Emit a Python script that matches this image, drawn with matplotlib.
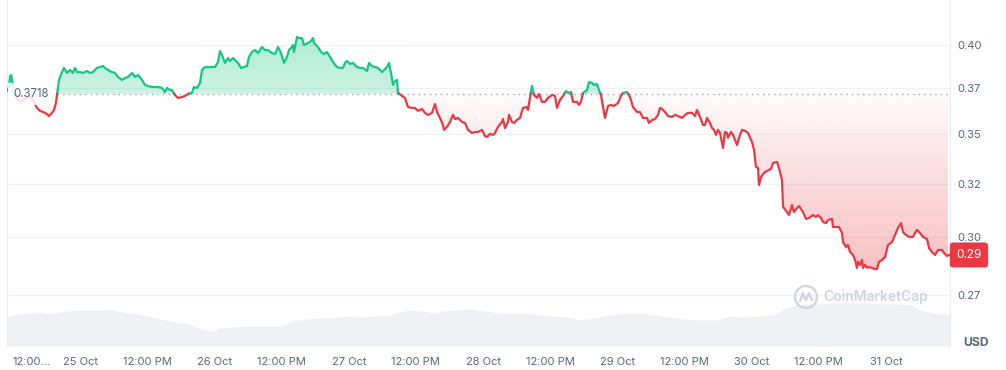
import numpy as np
import matplotlib.pyplot as plt
import matplotlib.colors as mcolors
from matplotlib.path import Path
from matplotlib.patches import Ellipse
from matplotlib.lines import Line2D

plt.rcParams['font.family'] = ['Inter', 'DejaVu Sans']

# hours since 24 Oct 12:00
hours = [
    -1.07, -0.71, -0.54, -0.36, -0.18, 0.0, 0.18, 0.71, 1.25, 1.79,
    2.50, 3.04, 3.57, 4.29, 4.82, 5.36, 6.08, 6.43, 6.97, 7.33,
    7.68, 7.86, 8.22, 8.76, 9.11, 9.65, 10.19, 10.72, 11.08, 11.44,
    11.97, 12.51, 13.22, 13.76, 14.30, 15.01, 15.55, 16.08, 16.44, 16.98,
    17.69, 18.23, 18.76, 19.48, 20.01, 20.55, 21.27, 21.80, 22.34, 23.05,
    23.59, 24.12, 24.84, 25.38, 25.91, 26.63, 27.16, 27.52, 28.06, 28.41,
    28.95, 29.49, 30.20, 30.74, 31.27, 31.99, 32.34, 32.88, 33.42, 33.77,
    34.31, 34.85, 35.56, 36.10, 36.63, 36.99, 37.35, 37.88, 38.42, 38.78,
    39.31, 39.67, 40.21, 40.74, 41.28, 41.82, 42.17, 42.71, 43.25, 43.78,
    44.50, 45.03, 45.57, 46.28, 46.82, 47.36, 47.89, 48.43, 48.96, 49.32,
    49.68, 50.04, 50.21, 50.75, 51.11, 51.64, 52.00, 52.72, 53.25, 53.61,
    53.79, 54.50, 55.04, 55.58, 56.11, 56.65, 57.18, 57.90, 58.43, 58.97,
    59.33, 59.69, 60.22, 60.76, 61.47, 62.01, 62.55, 63.26, 63.62, 64.15,
    64.69, 65.23, 65.94, 66.48, 66.83, 67.19, 67.55, 67.91, 68.08, 68.62,
    68.80, 69.51, 70.05, 70.59, 71.30, 71.84, 72.37, 73.09, 73.62, 74.16,
    74.88, 75.41, 75.77, 76.30, 76.84, 77.02, 77.56, 78.09, 78.63, 78.99,
    79.52, 80.24, 80.77, 81.31, 82.02, 82.56, 83.10, 83.81, 84.35, 84.70,
    85.24, 85.78, 86.13, 86.67, 87.38, 87.56, 87.92, 88.46, 88.64, 89.17,
    89.53, 90.06, 90.60, 91.14, 91.85, 92.03, 92.39, 92.75, 93.10, 93.64,
    94.00, 94.53, 95.07, 95.60, 96.32, 96.86, 97.21, 97.75, 98.29, 98.82,
    99.18, 99.71, 100.07, 100.79, 101.14, 101.50, 101.86, 102.57, 102.93, 103.47,
    103.82, 104.36, 104.72, 105.08, 105.43, 105.79, 106.33, 106.86, 107.40, 108.11,
    108.65, 109.01, 109.72, 110.26, 110.79, 111.51, 112.04, 112.58, 113.30, 113.65,
    114.19, 114.73, 115.26, 115.62, 116.16, 116.51, 117.05, 117.76, 118.30, 118.84,
    119.55, 120.09, 120.62, 121.34, 121.87, 122.23, 122.77, 123.30, 123.66, 124.02,
    124.55, 124.91, 125.27, 125.63, 125.98, 126.34, 126.88, 127.23, 127.59, 127.77,
    128.31, 128.66, 129.38, 129.74, 130.27, 130.81, 131.34, 132.06, 132.42, 132.77,
    133.13, 133.31, 133.67, 134.20, 134.74, 135.45, 135.81, 136.53, 136.88, 137.42,
    137.60, 138.31, 138.67, 139.21, 139.56, 140.10, 140.46, 141.17, 141.71, 142.25,
    142.96, 143.50, 143.85, 144.39, 144.75, 145.28, 145.64, 146.36, 146.53, 147.07,
    147.61, 148.14, 148.32, 148.86, 149.21, 149.57, 150.11, 150.47, 150.82, 151.00,
    151.36, 151.72, 151.90, 152.25, 152.61, 152.79, 153.50, 154.04, 154.40, 154.75,
    155.29, 155.83, 156.36, 157.08, 157.61, 158.15, 158.69, 159.04, 159.58, 160.12,
    160.83, 161.19, 161.55, 162.08, 162.62, 163.33, 163.69, 164.23, 164.76, 165.30,
    166.01, 166.37, 166.91, 167.26,
]
price = [
    0.3734, 0.3756, 0.3813, 0.3824, 0.3796, 0.3767, 0.3728, 0.3695, 0.3673, 0.3684,
    0.3695, 0.3700, 0.3684, 0.3640, 0.3624, 0.3618, 0.3607, 0.3596, 0.3613, 0.3629,
    0.3667, 0.3711, 0.3796, 0.3841, 0.3865, 0.3836, 0.3853, 0.3836, 0.3865, 0.3841,
    0.3841, 0.3836, 0.3847, 0.3836, 0.3841, 0.3865, 0.3870, 0.3876, 0.3865, 0.3853,
    0.3841, 0.3836, 0.3813, 0.3796, 0.3807, 0.3813, 0.3836, 0.3813, 0.3824, 0.3796,
    0.3767, 0.3762, 0.3756, 0.3756, 0.3756, 0.3751, 0.3728, 0.3751, 0.3739, 0.3739,
    0.3711, 0.3695, 0.3700, 0.3706, 0.3717, 0.3723, 0.3756, 0.3751, 0.3779, 0.3853,
    0.3870, 0.3870, 0.3870, 0.3870, 0.3899, 0.3964, 0.3941, 0.3894, 0.3923, 0.3905,
    0.3923, 0.3911, 0.3894, 0.3865, 0.3870, 0.3876, 0.3929, 0.3958, 0.3970, 0.3952,
    0.3988, 0.3970, 0.3970, 0.3952, 0.3946, 0.3988, 0.3952, 0.3894, 0.3929, 0.3970,
    0.3982, 0.4000, 0.3958, 0.4048, 0.4042, 0.4042, 0.4000, 0.4012, 0.4024, 0.4042,
    0.4012, 0.3988, 0.3958, 0.3946, 0.3958, 0.3929, 0.3899, 0.3870, 0.3865, 0.3865,
    0.3894, 0.3905, 0.3888, 0.3894, 0.3870, 0.3865, 0.3865, 0.3847, 0.3894, 0.3876,
    0.3870, 0.3865, 0.3841, 0.3859, 0.3870, 0.3894, 0.3836, 0.3767, 0.3784, 0.3796,
    0.3723, 0.3706, 0.3695, 0.3645, 0.3640, 0.3640, 0.3624, 0.3634, 0.3613, 0.3602,
    0.3613, 0.3662, 0.3618, 0.3586, 0.3548, 0.3522, 0.3538, 0.3564, 0.3602, 0.3580,
    0.3586, 0.3564, 0.3559, 0.3522, 0.3506, 0.3511, 0.3511, 0.3522, 0.3490, 0.3485,
    0.3501, 0.3496, 0.3506, 0.3538, 0.3564, 0.3580, 0.3532, 0.3564, 0.3602, 0.3564,
    0.3559, 0.3575, 0.3586, 0.3640, 0.3645, 0.3629, 0.3700, 0.3762, 0.3711, 0.3695,
    0.3717, 0.3673, 0.3673, 0.3695, 0.3711, 0.3706, 0.3640, 0.3684, 0.3706, 0.3734,
    0.3723, 0.3728, 0.3673, 0.3673, 0.3656, 0.3673, 0.3723, 0.3739, 0.3784, 0.3779,
    0.3767, 0.3773, 0.3739, 0.3711, 0.3645, 0.3586, 0.3651, 0.3656, 0.3651, 0.3667,
    0.3706, 0.3723, 0.3728, 0.3700, 0.3645, 0.3618, 0.3618, 0.3586, 0.3586, 0.3559,
    0.3575, 0.3580, 0.3602, 0.3640, 0.3629, 0.3618, 0.3596, 0.3591, 0.3602, 0.3596,
    0.3586, 0.3602, 0.3613, 0.3613, 0.3596, 0.3629, 0.3591, 0.3548, 0.3548, 0.3586,
    0.3559, 0.3532, 0.3522, 0.3496, 0.3522, 0.3506, 0.3428, 0.3511, 0.3506, 0.3480,
    0.3511, 0.3496, 0.3443, 0.3480, 0.3522, 0.3517, 0.3506, 0.3459, 0.3418, 0.3332,
    0.3327, 0.3243, 0.3282, 0.3302, 0.3312, 0.3322, 0.3352, 0.3357, 0.3327, 0.3267,
    0.3138, 0.3114, 0.3100, 0.3147, 0.3114, 0.3133, 0.3142, 0.3114, 0.3082, 0.3087,
    0.3100, 0.3091, 0.3100, 0.3087, 0.3068, 0.3063, 0.3077, 0.3082, 0.3045, 0.3045,
    0.3045, 0.3018, 0.2977, 0.2955, 0.2964, 0.2933, 0.2920, 0.2898, 0.2864, 0.2890,
    0.2877, 0.2898, 0.2864, 0.2877, 0.2864, 0.2868, 0.2864, 0.2859, 0.2859, 0.2890,
    0.2898, 0.2911, 0.2964, 0.2977, 0.3009, 0.3041, 0.3063, 0.3022, 0.3009, 0.3000,
    0.3000, 0.3018, 0.3032, 0.3018, 0.3000, 0.2991, 0.2951, 0.2933, 0.2920, 0.2942,
    0.2942, 0.2929, 0.2916, 0.2920,
]

# volume, relative units
vol_hours = [
    -1.07, -0.54, 1.25, 3.04, 4.82, 6.61, 8.40, 9.65, 11.97, 15.55,
    17.33, 19.12, 21.44, 23.95, 26.27, 28.59, 31.09, 32.88, 33.95, 35.74,
    36.99, 39.31, 42.35, 45.39, 48.25, 50.04, 52.54, 54.86, 57.18, 59.69,
    62.01, 64.33, 66.83, 69.16, 70.94, 73.27, 75.05, 76.84, 79.34, 81.67,
    83.99, 87.03, 90.06, 92.92, 95.96, 99.00, 101.32, 103.65, 106.69, 110.79,
    113.83, 116.87, 119.73, 122.77, 125.80, 128.13, 130.45, 133.49, 136.53, 137.96,
    140.64, 143.68, 146.53, 149.57, 152.61, 155.47, 158.51, 160.83, 162.08, 164.41,
    167.44,
]
volume = [
    28, 30, 32, 33, 34, 32, 34, 35, 36, 36,
    37, 34, 33, 30, 27, 24, 23, 19, 16, 15,
    18, 19, 20, 20, 21, 25, 27, 28, 28, 30,
    29, 30, 30, 34, 36, 35, 33, 35, 36, 37,
    35, 33, 33, 32, 30, 29, 26, 28, 31, 33,
    32, 29, 27, 26, 26, 30, 29, 30, 32, 38,
    42, 42, 43, 43, 43, 42, 42, 41, 36, 33,
    31,
]

open_price = 0.3718
last_label = "0.29"

tick_hours = [0, 12, 24, 36, 48, 60, 72, 84, 96, 108, 120, 132, 144, 156]
tick_labels = ["12:00...", "25 Oct", "12:00 PM", "26 Oct", "12:00 PM", "27 Oct",
               "12:00 PM", "28 Oct", "12:00 PM", "29 Oct", "12:00 PM", "30 Oct",
               "12:00 PM", "31 Oct"]
y_ticks = [0.4, 0.375, 0.35, 0.325, 0.3, 0.275]
y_tick_labels = ["0.40", "0.37", "0.35", "0.32", "0.30", "0.27"]

GREEN = "#16c784"
RED = "#ea3943"
GREY = "#58667e"
GRID = "#eff2f5"
MARK = "#cfd5de"


def add_crossings(t, p, base):
    # insert points on the baseline so the two colours meet cleanly
    t2, p2 = [t[0]], [p[0]]
    for i in range(1, len(t)):
        a, b = p[i - 1] - base, p[i] - base
        if a * b < 0:
            f = a / (a - b)
            t2.append(t[i - 1] + f * (t[i] - t[i - 1]))
            p2.append(base)
        t2.append(t[i])
        p2.append(p[i])
    return np.array(t2), np.array(p2)


def gradient_fill(ax, t, p, base, mask, color, a_base, a_far, far):
    poly = ax.fill_between(t, base, p, where=mask, facecolor="none", lw=0)
    clip = Path.make_compound_path(*poly.get_paths())
    grad = np.zeros((256, 1, 4))
    grad[..., :3] = mcolors.to_rgb(color)
    lo, hi = min(base, far), max(base, far)
    if far > base:
        grad[:, 0, 3] = np.linspace(a_far, a_base, 256)
    else:
        grad[:, 0, 3] = np.linspace(a_base, a_far, 256)
    im = ax.imshow(grad, extent=[t[0], t[-1], lo, hi], origin="upper",
                   aspect="auto", interpolation="bilinear", zorder=1)
    im.set_clip_path(clip, transform=ax.transData)


fig = plt.figure(figsize=(10.06, 3.70), dpi=100)
L, B, W = 7 / 1006, 1 - 346 / 370, 943 / 1006

# volume strip at the bottom
axv = fig.add_axes([L, B, W, 46 / 370])
axv.fill_between(vol_hours, 0, volume, color="#eff1f4", lw=0)
axv.set_ylim(0, 46)
axv.set_xlim(-1.07, 167.44)
axv.axis("off")

ax = fig.add_axes([L, B, W, 346 / 370])
ax.set_facecolor("none")
ax.set_yscale("log")

t, p = add_crossings(hours, price, open_price)
up = p >= open_price
dn = p <= open_price

gradient_fill(ax, t, p, open_price, up, GREEN, 0.22, 0.34, 0.405)
gradient_fill(ax, t, p, open_price, dn, RED, 0.02, 0.32, 0.283)

ax.plot(t, np.where(up, p, np.nan), color=GREEN, lw=1.6, zorder=3)
ax.plot(t, np.where(dn, p, np.nan), color=RED, lw=1.6, zorder=3)

ax.axhline(open_price, color="#9aa3b3", lw=1, ls=(0, (1, 3)), zorder=2)

ax.set_xlim(-1.07, 167.44)
ax.set_ylim(0.25476, 0.42791)

ax.yaxis.tick_right()
ax.set_yticks(y_ticks)
ax.set_yticklabels(y_tick_labels)
ax.yaxis.set_minor_locator(plt.NullLocator())
ax.set_xticks(tick_hours)
ax.set_xticklabels(tick_labels)
ax.tick_params(axis="both", length=0, colors=GREY, labelsize=8)
ax.tick_params(axis="y", pad=5)
ax.tick_params(axis="x", pad=8)
ax.get_xticklabels()[0].set_horizontalalignment("left")
ax.grid(axis="y", color=GRID, lw=1)
ax.set_axisbelow(True)

for s in ["top", "bottom"]:
    ax.spines[s].set_visible(False)
for s in ["left", "right"]:
    ax.spines[s].set_color("#e8ebef")

ax.text(0.0, open_price, "0.3718", color=GREY, fontsize=8.3, ha="left", va="center",
        zorder=5, bbox=dict(facecolor="white", alpha=0.85, edgecolor="none",
                            boxstyle="square,pad=0.45"))

ax.annotate(last_label, xy=(1, price[-1]), xycoords=("axes fraction", "data"),
            xytext=(4.5, 0), textcoords="offset points", ha="left", va="center",
            color="white", fontsize=8.5, zorder=6, annotation_clip=False,
            bbox=dict(facecolor=RED, edgecolor="none", boxstyle="round,pad=0.55,rounding_size=0.3"))

fig.text(963 / 1006, 1 - 343 / 370, "USD", color=GREY, fontsize=8.8, fontweight="bold",
         ha="left", va="center")

# watermark: circle logo with a small wave, then the name
cx, cy = 806 / 1006, 1 - 297 / 370
fig.patches.append(Ellipse((cx, cy), 22 / 1006, 22 / 370,
                           transform=fig.transFigure, fill=False, ec=MARK, lw=1.6))
wave_x = cx + np.array([-6, -3, 0, 3, 6]) / 1006
wave_y = cy + np.array([-4, 4, -3, 4, -3]) / 370
fig.lines.append(Line2D(wave_x, wave_y, transform=fig.transFigure, color=MARK, lw=1.6))
fig.text(823 / 1006, 1 - 297 / 370, "CoinMarketCap", color=MARK, fontsize=10,
         fontweight="semibold", ha="left", va="center")

fig.savefig("out.png", dpi=100)
